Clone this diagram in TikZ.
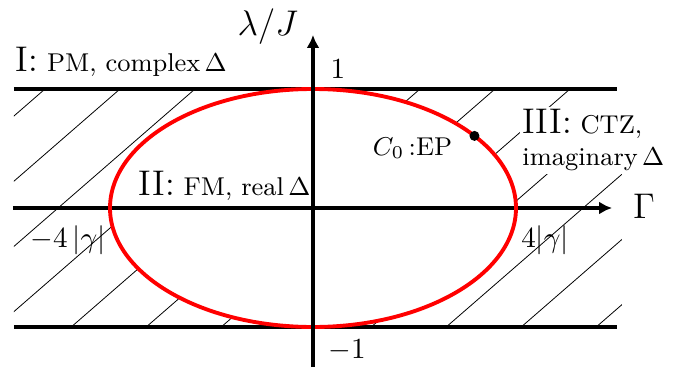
\RequirePackage{fix-cm}
\documentclass[tikz,border=0pt]{standalone}
\usepackage{amssymb,amsmath}
\usetikzlibrary{arrows.meta,calc}

\begin{document}
\begin{tikzpicture}[x=0.6211cm, y=0.6211cm, scale=1.61,
		every node/.style={transform shape},
		>={Latex[length=2.6mm,width=2.6mm]},
		axis/.style={line width=2.2pt},
		hatchline/.style={line width=0.45pt},
		big/.style={font=\fontsize{12.6}{15}\selectfont},
		mid/.style={font=\fontsize{9.1}{11.2}\selectfont},
		num/.style={font=\fontsize{10.3}{12.5}\selectfont}]
		\useasboundingbox (-6.26,-3.22) rectangle (7.28,4.16);
		\def\a{4.06}  % half width of the ellipse, 4|gamma|
		\def\b{2.38}  % half height, lines at lambda = +-J
		\def\xl{-5.98}\def\xr{6.08}
		% hatching outside the ellipse
		\begin{scope}[even odd rule]
			\clip (\xl,-\b) rectangle (6.18,\b) (0,0) ellipse ({\a} and {\b});
			\foreach \k in {0,...,11} {
				\draw[hatchline] (-5.36+1.5*\k,\b) -- ++(221:8);
			}
		\end{scope}
		% lines lambda = +-J
		\coordinate (tl) at (\xl,\b);  \coordinate (tr) at (\xr,\b);
		\coordinate (bl) at (\xl,-\b); \coordinate (br) at (\xr,-\b);
		\draw[axis] (tl) -- (tr);
		\draw[axis] (bl) -- (br);
		% Gamma axis
		\coordinate (gs) at (-6.0,0); \coordinate (ge) at (5.98,0);
		\draw[axis,->] (gs) -- (ge);
		\node[big] (gam) at (6.62,0.04) {$\Gamma$};
		% EP curve
		\draw[red, line width=2.2pt] (0,0) ellipse ({\a} and {\b});
		\node[circle, fill, inner sep=0pt, minimum size=0.124cm] (ep) at ({\a*cos(37.3)},{\b*sin(37.3)}) {};
		\node[mid, anchor=east] (eplab) at (2.98,1.2) {$C_0\,$:EP};
		% lambda axis
		\coordinate (ls) at (0,-3.18); \coordinate (le) at (0,3.46);
		\draw[axis,->] (ls) -- (le);
		\node[big, anchor=east] (lam) at (-0.1,3.62) {$\lambda/J$};
		\node[num] (one) at (0.5,2.78) {$1$};
		\node[num] (mone) at (0.68,-2.84) {$-1$};
		\node[num] (gp) at (4.64,-0.64) {$4|\gamma|$};
		\node[num] (gm) at (-4.9,-0.64) {$-4\,|\gamma|$};
		% regions
		\node[mid, anchor=base west] (reg1) at (-6.14,2.72) {{\fontsize{12.6}{15}\selectfont I:} PM, complex\,$\Delta$};
		\node[mid, anchor=base west] (reg2) at (-3.68,0.26) {{\fontsize{12.6}{15}\selectfont II:} FM, real\,$\Delta$};
		\node[mid, fill=white, inner sep=1pt, align=left, anchor=north west] (reg3) at (4.12,2.04)
			{{\fontsize{12.6}{15}\selectfont III:} CTZ,\\ imaginary\,$\Delta$};
	\end{tikzpicture}
\end{document}
